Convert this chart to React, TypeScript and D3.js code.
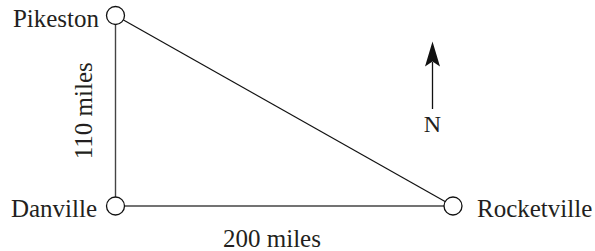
import React from "react";
import * as d3 from "d3";

// Data: towns positioned in miles (east, north) relative to Danville
const townNames = ["Pikeston", "Danville", "Rocketville"];
const townEast = [0, 0, 200];
const townNorth = [110, 0, 0];
const distanceLabels = ["110 miles", "200 miles"];
const compassLabel = "N";

const W = 595;
const H = 251;

export default function App() {
  const x = d3.scaleLinear().domain([0, 200]).range([115.5, 453]);
  const y = d3.scaleLinear().domain([0, 110]).range([206, 15.5]);
  const pts = townNames.map((n, i) => ({ name: n, px: x(townEast[i]), py: y(townNorth[i]) }));
  const [pike, dan, rock] = pts;
  const r = 9;
  const fs = 25;
  const ts: React.CSSProperties = { fontFamily: '"Liberation Serif", "Tinos", "Times New Roman", "DejaVu Serif", serif', fontSize: fs };

  const ax = 432.5;
  const arrowHead = d3.path();
  arrowHead.moveTo(ax, 41.5);
  arrowHead.lineTo(ax - 7.5, 66.5);
  arrowHead.lineTo(ax, 61.5);
  arrowHead.lineTo(ax + 7.5, 66.5);
  arrowHead.closePath();

  return (
    <svg width={W} height={H} style={{ position: "absolute", left: 0, top: 0, background: "#fff" }}>
      <rect x={0} y={0} width={W} height={H} fill="#fff" />
      {/* edges */}
      <line x1={pike.px} y1={pike.py} x2={dan.px} y2={dan.py} stroke="#444" strokeWidth={1.4} />
      <line x1={dan.px} y1={dan.py} x2={rock.px} y2={rock.py} stroke="#444" strokeWidth={1.4} />
      <line x1={pike.px} y1={pike.py} x2={rock.px} y2={rock.py} stroke="#111" strokeWidth={1.2} />
      {/* towns */}
      {pts.map((p) => (
        <circle key={p.name} cx={p.px} cy={p.py} r={r} fill="#fff" stroke="#111" strokeWidth={1.3} />
      ))}
      <text x={pike.px - 16.5} y={pike.py + 11} textAnchor="end" style={ts} fill="#231f20">
        {pike.name}
      </text>
      <text x={dan.px - 18.5} y={dan.py + 10.5} textAnchor="end" style={ts} fill="#231f20">
        {dan.name}
      </text>
      <text x={rock.px + 24} y={rock.py + 10.5} textAnchor="start" style={ts} fill="#231f20">
        {rock.name}
      </text>
      {/* distance labels */}
      <text
        transform={`translate(${pike.px - 24},${(pike.py + dan.py) / 2}) rotate(-90)`}
        textAnchor="middle"
        style={ts}
        fill="#231f20"
      >
        {distanceLabels[0]}
      </text>
      <text x={272} y={247} textAnchor="middle" style={ts} fill="#231f20">
        {distanceLabels[1]}
      </text>
      {/* compass */}
      <line x1={ax} y1={62} x2={ax} y2={109} stroke="#111" strokeWidth={1.3} />
      <path d={arrowHead.toString()} fill="#111" />
      <text x={ax} y={131.5} textAnchor="middle" style={{ ...ts, fontSize: fs - 1 }} fill="#231f20">
        {compassLabel}
      </text>
    </svg>
  );
}
